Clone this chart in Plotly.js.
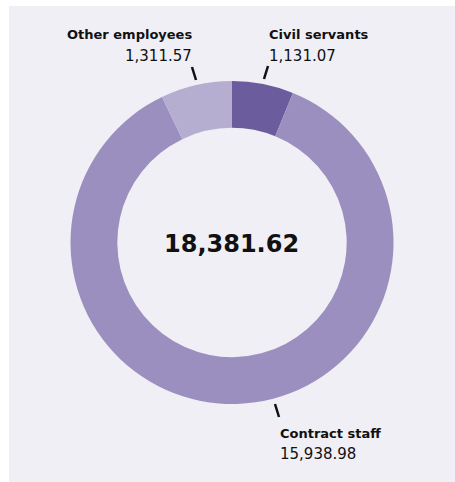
<!DOCTYPE html>
<html><head><meta charset="utf-8">
<script src="https://cdn.plot.ly/plotly-3.0.1.min.js"></script>
<style>html,body{margin:0;padding:0;background:#fff;}</style>
</head><body>
<div id="chart" style="width:455px;height:482px;"></div>
<script>
const categories = ["Civil servants", "Contract staff", "Other employees"];
const values = [1131.07, 15938.98, 1311.57];
const colors = ["#6a5c9d", "#9b8fbf", "#b5aed1"];

const W = 455, H = 482;
const px = x => x / W;
const py = y => 1 - y / H;
const fmt = v => v.toLocaleString("en-US", {minimumFractionDigits: 2, maximumFractionDigits: 2});
const total = values.reduce((a, b) => a + b, 0);
const FONT = "DejaVu Sans, Verdana, sans-serif";

const trace = {
  type: "pie",
  labels: categories,
  values: values,
  marker: {colors: colors, line: {width: 0}},
  hole: 0.71,
  sort: false,
  direction: "clockwise",
  rotation: 0,
  textinfo: "none",
  hoverinfo: "none",
  domain: {x: [px(70.5), px(393.5)], y: [py(404), py(81)]}
};

const labelPos = [
  {i: 0, x: 267, y: 35, anchor: "left"},
  {i: 1, x: 278, y: 433, anchor: "left"},
  {i: 2, x: 194, y: 35, anchor: "right"}
];
const annotations = [];
labelPos.forEach(p => {
  annotations.push({xref: "paper", yref: "paper", x: px(p.x), y: py(p.y), xanchor: p.anchor, yanchor: "middle",
    text: "<b>" + categories[p.i] + "</b>", showarrow: false, font: {family: FONT, size: 13, color: "#111"}});
  annotations.push({xref: "paper", yref: "paper", x: px(p.x), y: py(p.y + 21), xanchor: p.anchor, yanchor: "middle",
    text: fmt(values[p.i]), showarrow: false, font: {family: FONT, size: 15, color: "#111"}});
});
annotations.push({xref: "paper", yref: "paper", x: px(232), y: py(244), xanchor: "center", yanchor: "middle",
  text: "<b>" + fmt(total) + "</b>", showarrow: false, font: {family: FONT, size: 24, color: "#111"}});

const ticks = [
  [[268, 66], [264, 79]],
  [[192, 67], [196, 80]],
  [[275, 404], [279, 417]]
];
const shapes = [{type: "rect", xref: "paper", yref: "paper", x0: px(9), x1: 1, y0: 0, y1: py(6),
  fillcolor: "#f0eff6", line: {width: 0}, layer: "below"}];
ticks.forEach(t => shapes.push({type: "line", xref: "paper", yref: "paper",
  x0: px(t[0][0]), y0: py(t[0][1]), x1: px(t[1][0]), y1: py(t[1][1]), line: {color: "#111", width: 2.5}}));

Plotly.newPlot("chart", [trace], {
  width: W, height: H,
  margin: {l: 0, r: 0, t: 0, b: 0},
  paper_bgcolor: "#ffffff",
  showlegend: false,
  annotations: annotations,
  shapes: shapes
}, {displayModeBar: false, staticPlot: true});
</script>
</body></html>
